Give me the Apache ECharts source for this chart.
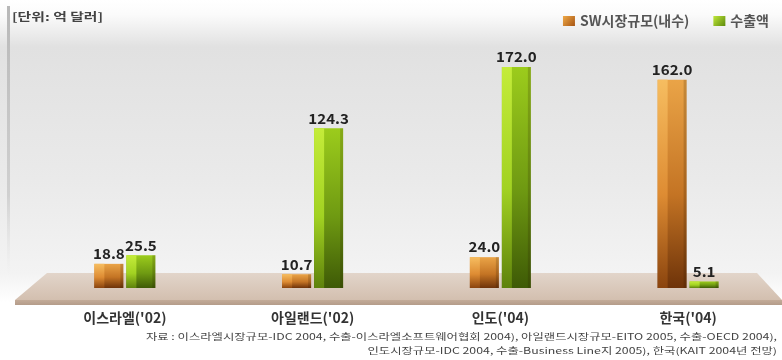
<!DOCTYPE html>
<html>
<head>
<meta charset="utf-8">
<script src="https://cdn.jsdelivr.net/npm/echarts@6/dist/echarts.min.js"></script>
<style>
  html, body { margin: 0; padding: 0; background: #fff; }
  #chart { width: 782px; height: 360px; }
</style>
</head>
<body>
<div id="chart"></div>
<script>
// 국가별 SW 시장규모(내수)와 수출액, 단위: 억 달러
const categories = ["이스라엘('02)", "아일랜드('02)", "인도('04)", "한국('04)"];
const domesticMarket = [18.8, 10.7, 24.0, 162.0];
const exportValue = [25.5, 124.3, 172.0, 5.1];
const seriesNames = ['SW시장규모(내수)', '수출액'];

const FONT = '"Noto Sans CJK KR", "Noto Sans", sans-serif';
const G = echarts.graphic;

const palettes = [
  { body: ['#eaa447', '#c47424', '#6e3309'], strip: ['#f6bd60', '#de8c33', '#8a440e'], legend: ['#f0aa48', '#a65412'] },
  { body: ['#9ccc1c', '#6f9a12', '#3e5a06'], strip: ['#c4ec3a', '#a2d222', '#5e820c'], legend: ['#c0e83a', '#5d8a0c'] }
];

function vGrad(c) {
  return new G.LinearGradient(0, 0, 0, 1, [
    { offset: 0, color: c[0] }, { offset: 0.55, color: c[1] }, { offset: 1, color: c[2] }
  ]);
}

function makeRender(seriesIdx) {
  const barW = 29, gap = 3;
  const pal = palettes[seriesIdx];
  return function (params, api) {
    const idx = api.value(0);
    const val = api.value(1);
    const top = api.coord([idx, val]);
    const base = api.coord([idx, 0]);
    const x = seriesIdx === 0 ? top[0] - gap / 2 - barW : top[0] + gap / 2;
    const h = base[1] - top[1];
    return {
      type: 'group',
      children: [
        { type: 'rect', shape: { x: x, y: top[1], width: barW, height: h }, style: { fill: vGrad(pal.body) } },
        { type: 'rect', shape: { x: x, y: top[1], width: 10, height: h }, style: { fill: vGrad(pal.strip) } },
        { type: 'rect', shape: { x: x + barW - 3, y: top[1], width: 3, height: h }, style: { fill: 'rgba(40,20,0,0.18)' } },
        {
          type: 'text',
          x: x + barW / 2, y: top[1] - 3,
          scaleX: 1.08,
          style: {
            x: 0, y: 0,
            text: val.toFixed(1),
            align: 'center', verticalAlign: 'bottom',
            font: 'bold 14px ' + FONT, fill: '#222'
          }
        }
      ]
    };
  };
}

const chart = echarts.init(document.getElementById('chart'), null, { renderer: 'canvas' });

chart.setOption({
  animation: false,
  textStyle: { fontFamily: FONT },
  grid: { left: 31, width: 754, top: 31, bottom: 72 },
  xAxis: {
    type: 'category',
    data: categories,
    axisLine: { show: false },
    axisTick: { show: false },
    axisLabel: { margin: 23, fontSize: 14, fontWeight: 'bold', color: '#333', fontFamily: FONT }
  },
  yAxis: { type: 'value', min: 0, max: 200, show: false, splitLine: { show: false } },
  legend: {
    right: 8, top: 9,
    itemWidth: 12, itemHeight: 10, itemGap: 24,
    icon: 'rect',
    textStyle: { fontSize: 14, fontWeight: 'bold', color: '#555', fontFamily: FONT },
    data: seriesNames
  },
  graphic: [
    // 배경
    {
      type: 'rect', z: -100, silent: true,
      shape: { x: 0, y: 0, width: 782, height: 360 },
      style: {
        fill: new G.LinearGradient(0, 0, 0, 1, [
          { offset: 0, color: '#ffffff' },
          { offset: 0.04, color: '#fbfbfb' },
          { offset: 0.13, color: '#e1e1e1' },
          { offset: 0.5, color: '#eaeaea' },
          { offset: 0.76, color: '#f3f3f3' },
          { offset: 0.84, color: '#ffffff' },
          { offset: 1, color: '#ffffff' }
        ])
      }
    },
    // 왼쪽 세로 테두리
    {
      type: 'rect', z: -90, silent: true,
      shape: { x: 7, y: 6, width: 3, height: 270 },
      style: {
        fill: new G.LinearGradient(0, 0, 0, 1, [
          { offset: 0, color: '#b8b8b8' }, { offset: 0.7, color: '#d0d0d0' }, { offset: 1, color: 'rgba(230,230,230,0)' }
        ])
      }
    },
    // 바닥 받침 윗면
    {
      type: 'polygon', z: -50, silent: true,
      shape: { points: [[47, 273], [757, 273], [782, 300], [15, 300]] },
      style: {
        fill: new G.LinearGradient(0, 0, 0, 1, [
          { offset: 0, color: '#e2d5ca' }, { offset: 1, color: '#d3bfaf' }
        ])
      }
    },
    // 바닥 받침 앞면
    {
      type: 'rect', z: -50, silent: true,
      shape: { x: 15, y: 300, width: 767, height: 5 },
      style: {
        fill: new G.LinearGradient(0, 0, 0, 1, [
          { offset: 0, color: '#c3ab98' }, { offset: 1, color: '#b49c8a' }
        ])
      }
    },
    // 단위
    {
      type: 'text', x: 12, y: 17, scaleX: 1.35, silent: true,
      style: { x: 0, y: 0, text: '[단위: 억 달러]', font: 'bold 11px ' + FONT, fill: '#444', verticalAlign: 'middle' }
    },
    // 출처
    {
      type: 'text', x: 777, y: 330, scaleX: 1.37, silent: true,
      style: {
        x: 0, y: 0,
        text: '자료 : 이스라엘시장규모-IDC 2004, 수출-이스라엘소프트웨어협회 2004), 아일랜드시장규모-EITO 2005, 수출-OECD 2004),\n인도시장규모-IDC 2004, 수출-Business Line지 2005), 한국(KAIT 2004년 전망)',
        font: '9px ' + FONT, fill: '#444', align: 'right', lineHeight: 14
      }
    }
  ],
  series: [
    {
      name: seriesNames[0], type: 'custom',
      itemStyle: { color: new G.LinearGradient(0, 0, 1, 1, [{ offset: 0, color: palettes[0].legend[0] }, { offset: 1, color: palettes[0].legend[1] }]) },
      encode: { x: 0, y: 1 },
      data: domesticMarket.map((v, i) => [i, v]),
      renderItem: makeRender(0)
    },
    {
      name: seriesNames[1], type: 'custom',
      itemStyle: { color: new G.LinearGradient(0, 0, 1, 1, [{ offset: 0, color: palettes[1].legend[0] }, { offset: 1, color: palettes[1].legend[1] }]) },
      encode: { x: 0, y: 1 },
      data: exportValue.map((v, i) => [i, v]),
      renderItem: makeRender(1)
    }
  ]
});
</script>
</body>
</html>
